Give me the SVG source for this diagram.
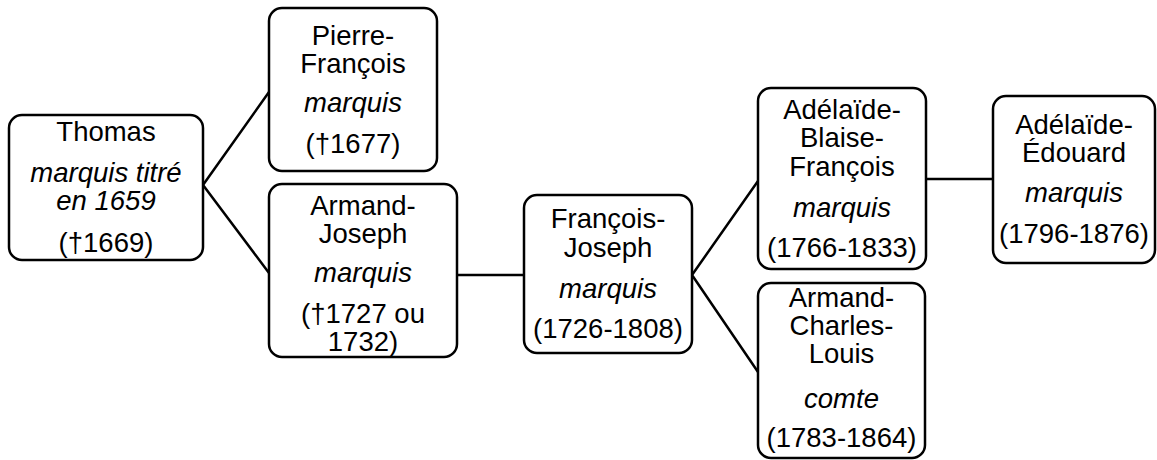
<svg xmlns="http://www.w3.org/2000/svg" width="1157" height="460" viewBox="0 0 1157 460">
<style>
.box{fill:#fff;stroke:#000;stroke-width:2.5}
.c{fill:none;stroke:#000;stroke-width:2.5}
text{font-family:"Liberation Sans",Arial,sans-serif;font-size:27.5px;fill:#000;text-anchor:middle}
.i{font-style:italic}
</style>
<rect width="1157" height="460" fill="#fff"/>
<g id="connectors">
<path class="c" d="M203,185 L269,92 M203,185 L269,273"/>
<path class="c" d="M457,275 L524,275"/>
<path class="c" d="M692,275 L758,181 M692,275 L758,372"/>
<path class="c" d="M926,179 L993,179"/>
</g>
<g id="thomas">
<rect class="box" x="9" y="115" width="194" height="145" rx="13"/>
<text x="106" y="141">Thomas</text>
<text x="106" y="182" class="i">marquis titré</text>
<text x="106" y="210" class="i">en 1659</text>
<text x="106" y="252">(†1669)</text>
</g>
<g id="pierre-francois">
<rect class="box" x="269" y="8" width="168" height="163" rx="13"/>
<text x="353" y="45">Pierre-</text>
<text x="353" y="73">François</text>
<text x="353" y="112" class="i">marquis</text>
<text x="353" y="153">(†1677)</text>
</g>
<g id="armand-joseph">
<rect class="box" x="269" y="184" width="188" height="173" rx="13"/>
<text x="363" y="215">Armand-</text>
<text x="363" y="243">Joseph</text>
<text x="363" y="282" class="i">marquis</text>
<text x="363" y="323">(†1727 ou</text>
<text x="363" y="351">1732)</text>
</g>
<g id="francois-joseph">
<rect class="box" x="524" y="195" width="168" height="158" rx="13"/>
<text x="608" y="228">François-</text>
<text x="608" y="257">Joseph</text>
<text x="608" y="298" class="i">marquis</text>
<text x="608" y="338">(1726-1808)</text>
</g>
<g id="adelaide-blaise-francois">
<rect class="box" x="758" y="88" width="168" height="181" rx="13"/>
<text x="842" y="119">Adélaïde-</text>
<text x="842" y="147">Blaise-</text>
<text x="842" y="176">François</text>
<text x="842" y="217" class="i">marquis</text>
<text x="842" y="257">(1766-1833)</text>
</g>
<g id="adelaide-edouard">
<rect class="box" x="993" y="96" width="162" height="167" rx="13"/>
<text x="1074" y="134">Adélaïde-</text>
<text x="1074" y="162">Édouard</text>
<text x="1074" y="202" class="i">marquis</text>
<text x="1074" y="243">(1796-1876)</text>
</g>
<g id="armand-charles-louis">
<rect class="box" x="758" y="283" width="167" height="175" rx="13"/>
<text x="841.5" y="307">Armand-</text>
<text x="841.5" y="335">Charles-</text>
<text x="841.5" y="363">Louis</text>
<text x="841.5" y="408" class="i">comte</text>
<text x="841.5" y="447">(1783-1864)</text>
</g>
</svg>
